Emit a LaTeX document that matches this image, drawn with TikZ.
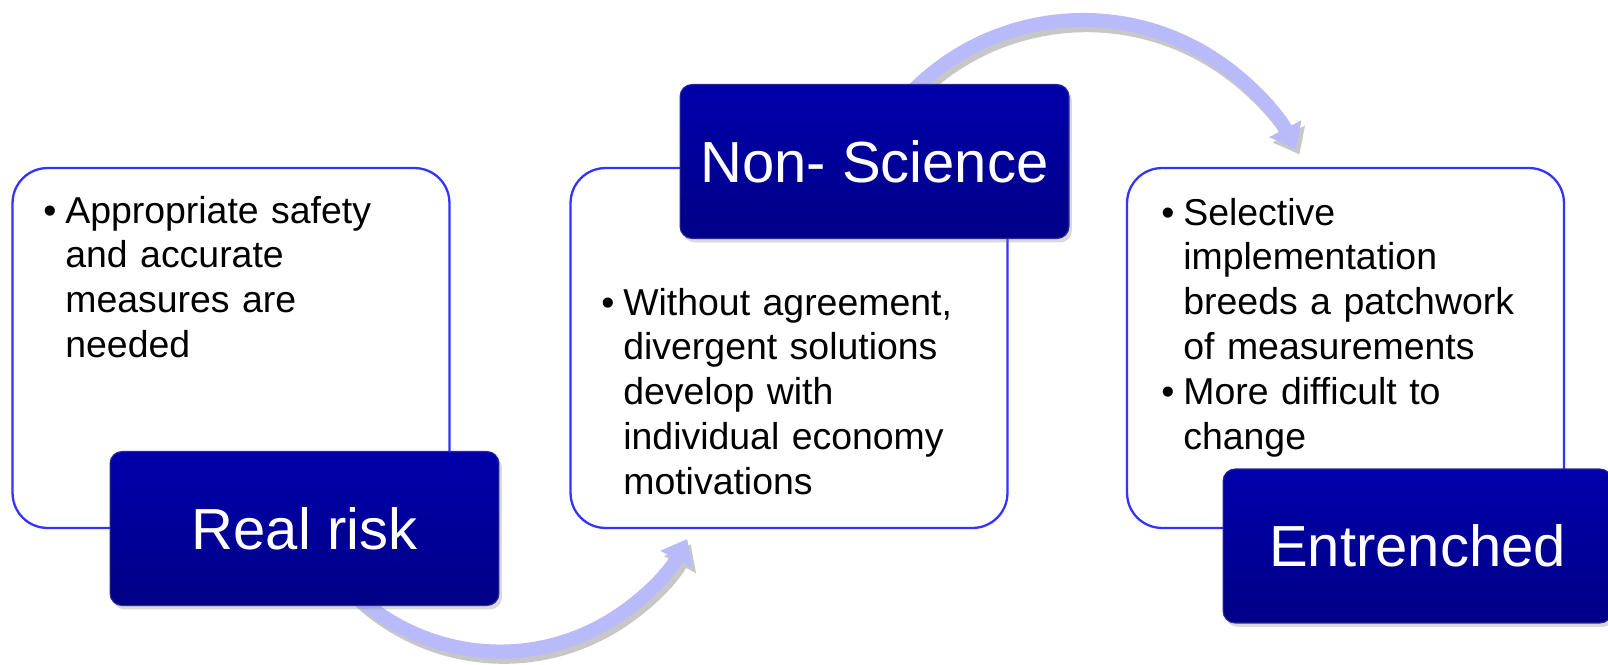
\documentclass[tikz,border=0pt]{standalone}
\usepackage{fontspec}
\setmainfont{Liberation Sans}
\usetikzlibrary{arrows.meta,shadows}
\definecolor{hdblue}{RGB}{0,0,172}
\definecolor{hdblued}{RGB}{0,0,134}
\definecolor{hdedge}{RGB}{40,40,150}
\definecolor{bxedge}{RGB}{51,51,255}
\definecolor{flowc}{RGB}{184,186,250}
\tikzset{
  bx/.style ={draw=bxedge,line width=1.3pt,rounded corners=0.7cm,fill=white,
              minimum width=8.74cm,minimum height=7.2cm},
  hd/.style ={draw=hdedge,line width=.6pt,rounded corners=0.24cm,top color=hdblue,bottom color=hdblued,
              minimum width=7.78cm,minimum height=3.08cm,text=white,font=\fontsize{33}{40}\selectfont,
              drop shadow={shadow xshift=.06cm,shadow yshift=-.08cm,opacity=.3}},
  txt/.style={anchor=base west,inner sep=0pt,text width=8.2cm,
              font=\fontsize{21.3}{25.6}\selectfont\raggedright},
  flow/.style  ={flowc,line width=0.28cm,-{Triangle[width=0.7cm,length=0.46cm]}},
  flowsh/.style={black!22,line width=0.28cm,-{Triangle[width=0.7cm,length=0.46cm]}},
}
\newcommand{\bul}{\hangindent=0.44cm\hangafter=1\noindent\makebox[0.44cm][l]{\textbullet}}

\begin{document}
\begin{tikzpicture}[x=0.02cm,y=0.02cm]
\useasboundingbox (0,0) rectangle (1608,664);

% ===================== CAIXAS ==========================================
\node[bx] (riskbox) at (231,316)    {};
\node[bx] (nonbox)  at (789,316)    {};
\node[bx] (entbox)  at (1345.5,316) {};

% ===================== SETAS ===========================================
\coordinate (a1s) at (316.4,118.5);  % sob Real risk
\coordinate (a2s) at (886.4,541.7);  % sob Non- Science
\draw[flowsh] ([xshift=2,yshift=-3]a1s) arc[start angle=210,end angle=332,radius=212];
\draw[flow]   (a1s) arc[start angle=210,end angle=332,radius=212];
\draw[flowsh] ([xshift=2,yshift=-3]a2s) arc[start angle=145,end angle=27.5,radius=240];
\draw[flow]   (a2s) arc[start angle=145,end angle=27.5,radius=240];

% ===================== TITULOS =========================================
\node[hd] (riskhd) at (304.5,135.5) {Real risk};
\node[hd] (nonhd)  at (874.5,502.5) {Non- Science};
\node[hd] (enthd)  at (1417.5,118)  {Entrenched};

% ===================== TEXTOS ==========================================
\node[txt] (risktxt) at (43,441)
  {\bul Appropriate safety\newline and accurate\newline measures are\newline needed\par};
\node[txt] (nontxt)  at (601,349)
  {\bul Without agreement,\newline divergent solutions\newline develop with\newline individual economy\newline motivations\par};
\node[txt] (enttxt)  at (1161,439)
  {\bul Selective\newline implementation\newline breeds a patchwork\newline of measurements\par
   \bul More difficult to\newline change\par};

\end{tikzpicture}
\end{document}
